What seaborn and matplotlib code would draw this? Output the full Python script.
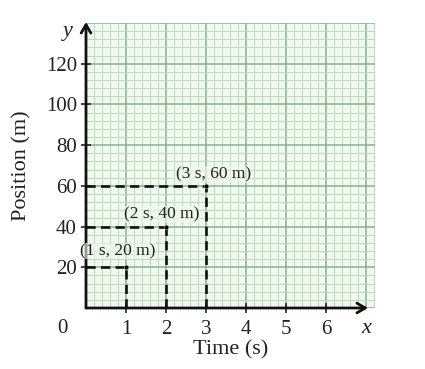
import numpy as np
import matplotlib
matplotlib.use("Agg")
import matplotlib.pyplot as plt
import seaborn as sns

# data
times = [1, 2, 3]
positions = [20, 40, 60]
point_labels = ["(1 s, 20 m)", "(2 s, 40 m)", "(3 s, 60 m)"]
x_ticks = [1, 2, 3, 4, 5, 6]
y_ticks = [20, 40, 60, 80, 100, 120]

sns.set_style("white")
plt.rcParams['font.family'] = ['Liberation Serif', 'DejaVu Serif']

fig = plt.figure(figsize=(4.25, 3.69), dpi=100)
ax = fig.add_axes([86 / 425, 61 / 369, 289 / 425, 285 / 369])
ax.set_xlim(0, 7.225)
ax.set_ylim(0, 140)
ax.set_facecolor("#f1f9ee")

# graph paper
for gx in np.arange(0, 7.25, 0.2):
    major = abs(gx - round(gx)) < 1e-6
    ax.axvline(gx, color="#86b191" if major else "#b9dcbd",
               lw=1.1 if major else 0.7, zorder=0)
for gy in np.arange(0, 141, 4):
    major = gy % 20 == 0
    ax.axhline(gy, color="#86b191" if major else "#b9dcbd",
               lw=1.1 if major else 0.7, zorder=0)

for s in ax.spines.values():
    s.set_visible(False)

# dashed guides and points
ax.hlines(positions, 0, times, colors="#111111", linestyles=(0, (3.5, 2)), lw=1.9, zorder=3)
ax.vlines(times, 0, positions, colors="#111111", linestyles=(0, (3.5, 2)), lw=1.9, zorder=3)
sns.scatterplot(x=times, y=positions, color="black", s=12, ax=ax, zorder=4, legend=False)

offsets = [(-0.2, 8), (-0.1, 6), (0.18, 5.5)]
for t, p, lab, (dx, dy) in zip(times, positions, point_labels, offsets):
    ax.text(t + dx, p + dy, lab, ha="center", va="center", fontsize=12.5, zorder=5,
            color="#222222",
            bbox=dict(facecolor="#f1f9ee", edgecolor="none", pad=0.3, alpha=0.6))

# axes with arrows
ax.annotate("", xy=(7.05, 0), xytext=(0, 0), annotation_clip=False,
            arrowprops=dict(arrowstyle="->,head_length=0.6,head_width=0.35", lw=2.0, color="#111111",
                            shrinkA=0, shrinkB=0))
ax.annotate("", xy=(0, 140.5), xytext=(0, 0), annotation_clip=False,
            arrowprops=dict(arrowstyle="->,head_length=0.6,head_width=0.35", lw=2.0, color="#111111",
                            shrinkA=0, shrinkB=0))

ax.set_xticks(x_ticks)
ax.set_yticks(y_ticks)
ax.tick_params(axis="both", direction="inout", length=7, width=1.2, labelsize=15,
               colors="#222222", left=True, bottom=True)
ax.tick_params(axis="x", pad=5)
ax.tick_params(axis="y", pad=3)

ax.text(-0.6, -10, "0", ha="center", va="center", fontsize=15, color="#222222")
ax.text(7.0, -10, "x", ha="center", va="center", fontsize=16, style="italic", color="#222222")
ax.text(-0.45, 136, "y", ha="center", va="center", fontsize=16, style="italic", color="#222222")

ax.set_xlabel("Time (s)", fontsize=16, labelpad=1, color="#222222")
ax.set_ylabel("Position (m)", fontsize=16, labelpad=10, color="#222222")

fig.savefig("out.png", dpi=100)
